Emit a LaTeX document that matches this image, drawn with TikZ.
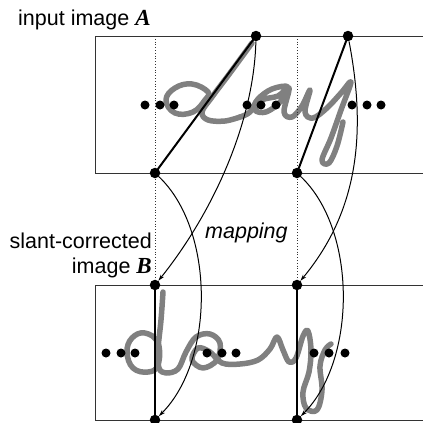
\documentclass[tikz,border=0pt]{standalone}
\usepackage{fontspec}
\setmainfont{Liberation Sans}
\newfontfamily\serifbi{Liberation Serif}
\usetikzlibrary{arrows.meta}
\begin{document}
\begin{tikzpicture}[x=1pt,y=-1pt,
  boxline/.style={line width=1pt,black!80},
  guide/.style={dotted,line width=0.8pt,black!80},
  bigdot/.style={circle,fill=black,inner sep=0pt,minimum size=10.5pt},
  smalldot/.style={circle,fill=black,inner sep=0pt,minimum size=9pt},
  thickline/.style={line width=2pt},
  maparrow/.style={line width=1pt,-{Stealth[length=6.5pt,width=4pt]}},
  hw/.style={line width=5.5pt,color=black!50,line cap=round,line join=round},
  lbl/.style={font=\fontsize{21.5}{25}\selectfont,inner sep=0pt}]
\useasboundingbox (0,0) rectangle (423,423);
% boxes
\draw[boxline] (423,36) -- (95,36) -- (95,173) -- (423,173);
\draw[boxline] (423,285) -- (95,285) -- (95,420) -- (423,420);
% handwriting A (slanted)
\draw[hw] plot[smooth cycle,tension=0.7] coordinates {(208,92) (192,84) (175,88) (166,100) (175,113) (193,112) (205,100)};
\draw[hw] plot[smooth,tension=0.6] coordinates {(252,43) (230,73) (212,97) (202,112) (208,120) (225,121) (240,117)};
\draw[hw] plot[smooth,tension=0.6] coordinates {(240,117) (250,112) (258,99) (272,89) (288,87) (280,102) (266,112) (255,110) (262,100) (278,96) (289,88) (284,112) (292,117) (302,106) (310,90) (305,112) (313,118) (327,108) (341,93) (351,82) (341,110) (331,138) (322,160) (329,163) (337,146) (343,122)};
% handwriting B (upright)
\draw[hw] plot[smooth cycle,tension=0.7] coordinates {(158,343) (145,333) (132,338) (127,352) (133,368) (148,372) (158,365)};
\draw[hw] plot[smooth,tension=0.6] coordinates {(163,292) (161,320) (158,350) (159,368) (166,373) (178,369) (186,352) (196,337) (210,334) (220,343) (217,360) (203,368) (192,360) (198,348) (210,352) (222,363) (240,364) (258,360) (270,349) (277,337) (283,350) (289,362) (296,358) (303,336) (308,331) (311,350) (309,372) (303,392) (306,408) (317,410) (322,390) (320,366) (325,350) (331,344)};
% dotted guides
\draw[guide] (155,36) -- (155,285);
\draw[guide] (297,36) -- (297,285);
% key points
\node[bigdot] (a1t) at (256,36) {};
\node[bigdot] (a1b) at (155,173) {};
\node[bigdot] (a2t) at (348,36) {};
\node[bigdot] (a2b) at (297,173) {};
\node[bigdot] (b1t) at (155,285) {};
\node[bigdot] (b1b) at (155,420) {};
\node[bigdot] (b2t) at (297,285) {};
\node[bigdot] (b2b) at (297,420) {};
% slant lines and corrected verticals
\draw[thickline] (a1t.center) -- (a1b.center);
\draw[thickline] (a2t.center) -- (a2b.center);
\draw[thickline] (b1t.center) -- (b1b.center);
\draw[thickline] (b2t.center) -- (b2b.center);
% row dots A
\foreach \x [count=\i] in {145,160,174,247,261,276,352,367,381}
  \node[smalldot] (ra\i) at (\x,105) {};
% row dots B
\foreach \x [count=\i] in {106,121,135,207,222,236,314,329,345}
  \node[smalldot] (rb\i) at (\x,353) {};
% mapping arrows
\draw[maparrow] (a1t) .. controls (254,120) and (215,210) .. (b1t);
\draw[maparrow] (a1b) .. controls (215,230) and (215,360) .. (b1b);
\draw[maparrow] (a2t) .. controls (368,140) and (355,215) .. (b2t);
\draw[maparrow] (a2b) .. controls (357,230) and (357,360) .. (b2b);
% labels
\node[lbl,anchor=base west] (tA) at (18,25) {input image {\fontsize{23}{25}\selectfont\serifbi\bfseries\itshape A}};
\node[lbl,anchor=base east] (tB1) at (152,248) {slant-corrected};
\node[lbl,anchor=base east] (tB2) at (152,273) {image {\fontsize{23}{25}\selectfont\serifbi\bfseries\itshape B}};
\node[lbl,anchor=base west] (tm) at (205,238) {\itshape mapping};
\end{tikzpicture}
\end{document}
